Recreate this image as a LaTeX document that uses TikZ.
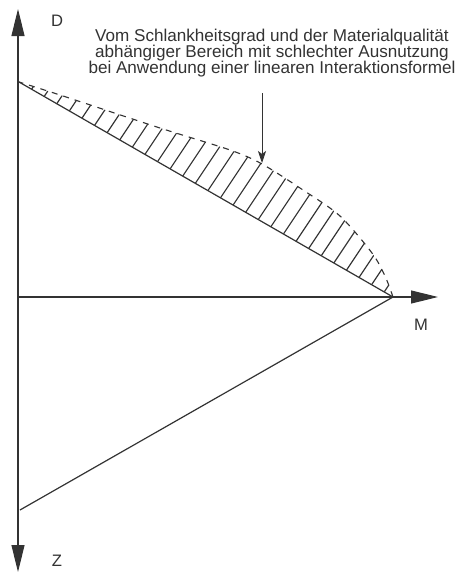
\documentclass[tikz,border=0pt]{standalone}
\usepackage{fontspec}
\setmainfont{Liberation Sans}
\usetikzlibrary{arrows.meta}
\definecolor{ink}{HTML}{333333}
\begin{document}
\begin{tikzpicture}[x=1pt,y=-1pt,
  every node/.style={text=ink,font=\fontsize{16.6}{16}\selectfont},
  caption/.style={font=\fontsize{17.1}{16}\selectfont,align=center,inner sep=0pt},
  axis/.style={draw=ink,line width=1.1pt,-{Triangle[length=27pt,width=13pt]}},
  plotline/.style={draw=ink,line width=1.2pt},
  hatchline/.style={draw=ink,line width=1.15pt},
  pointer/.style={draw=ink,line width=0.8pt,-{Stealth[length=12pt,width=8pt,inset=3pt]}}]
\useasboundingbox[fill=white] (0,0) rectangle (460,573);
% coordinates
\coordinate (O) at (18,297);
\coordinate (Dtip) at (18,9);
\coordinate (Ztip) at (18,572);
\coordinate (Mtip) at (438,297);
\coordinate (A) at (19,82);
\coordinate (V) at (393,297);
\coordinate (B) at (20,510);
\coordinate (P) at (262,163);
% hatched region
\begin{scope}
\clip (A) -- (V) -- plot[smooth] coordinates {(393,297) (385,276) (372,253) (340,216) (303,190) (262,164) (230,150) (160,128) (60,95) (19,82)} -- cycle;
\foreach \i in {0,...,40}{
  \draw[hatchline] ({19+\i*12.6},{82+\i*12.6*0.5737}) -- ++(90,-135);
}
\end{scope}
\draw[ink,line width=1.1pt,dash pattern=on 6pt off 6pt] plot[smooth] coordinates {(393,297) (385,276) (372,253) (340,216) (303,190) (262,164) (230,150) (160,128) (60,95) (19,82)};
% axes
\draw[axis] (O) -- (Dtip);
\draw[axis] (O) -- (Ztip);
\draw[axis] (O) -- (Mtip);
% interaction lines
\draw[plotline] (A) -- (V);
\draw[plotline] (V) -- (B);
% labels
\node (D) at (57,21) {D};
\node (M) at (421,325) {M};
\node (Z) at (57,561) {Z};
\node[caption] (txt) at (272,53) {Vom Schlankheitsgrad und der Materialqualität\\abhängiger Bereich mit schlechter Ausnutzung\\bei Anwendung einer linearen Interaktionsformel};
\coordinate (Pstart) at (262,93);
\draw[pointer] (Pstart) -- (P);
\end{tikzpicture}
\end{document}
